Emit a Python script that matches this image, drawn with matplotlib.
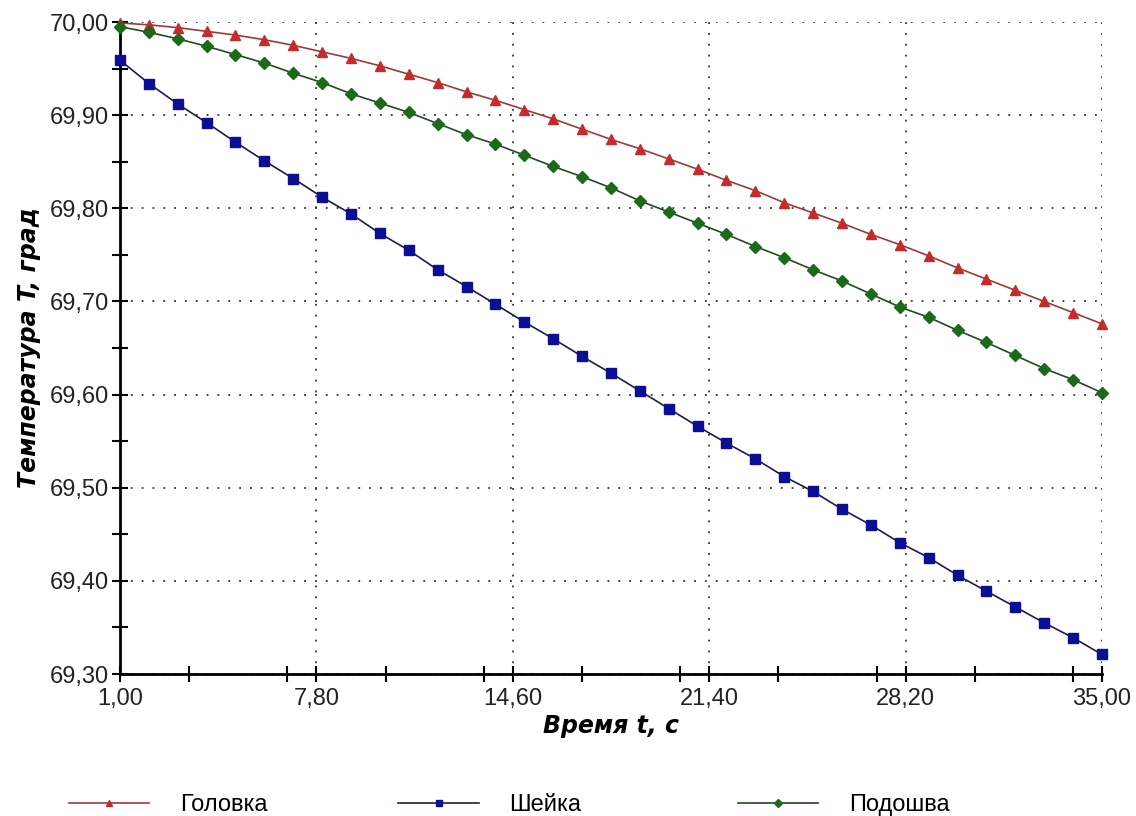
import matplotlib
matplotlib.use("Agg")
import matplotlib.pyplot as plt
from matplotlib.ticker import FuncFormatter, MultipleLocator
from matplotlib.lines import Line2D

# время, с
t = list(range(1, 36))

# Головка
golovka = [69.999, 69.997, 69.994, 69.990, 69.986, 69.981, 69.975, 69.968, 69.961, 69.953,
           69.944, 69.935, 69.925, 69.916, 69.906, 69.896, 69.885, 69.874, 69.864, 69.853,
           69.842, 69.830, 69.819, 69.806, 69.795, 69.784, 69.772, 69.761, 69.749, 69.736,
           69.724, 69.712, 69.700, 69.688, 69.676]

# Шейка
sheyka = [69.959, 69.934, 69.912, 69.892, 69.871, 69.851, 69.832, 69.812, 69.794, 69.773,
          69.755, 69.734, 69.716, 69.697, 69.678, 69.660, 69.641, 69.623, 69.604, 69.585,
          69.566, 69.548, 69.531, 69.512, 69.496, 69.477, 69.460, 69.441, 69.425, 69.406,
          69.389, 69.372, 69.355, 69.339, 69.321]

# Подошва
podoshva = [69.995, 69.989, 69.982, 69.974, 69.965, 69.956, 69.945, 69.935, 69.923, 69.913,
            69.903, 69.891, 69.879, 69.869, 69.857, 69.845, 69.834, 69.822, 69.808, 69.796,
            69.784, 69.772, 69.759, 69.747, 69.734, 69.722, 69.708, 69.694, 69.683, 69.669,
            69.656, 69.642, 69.628, 69.616, 69.602]

xticks = [1.0, 7.8, 14.6, 21.4, 28.2, 35.0]
yticks = [69.3, 69.4, 69.5, 69.6, 69.7, 69.8, 69.9, 70.0]

tick_font = ['Liberation Sans', 'DejaVu Sans']
label_font = ['DejaVu Sans']

fig = plt.figure(figsize=(11.36, 8.16), dpi=100)
ax = fig.add_axes([0.1056, 0.174, 0.8644, 0.799])

# series: (values, line colour, marker colour, marker, size, label)
series = [
    (golovka, '#9e3a3a', '#c62a2a', '^', 6.5, 'Головка'),
    (sheyka, '#1c1c4a', '#0d0d96', 's', 6.5, 'Шейка'),
    (podoshva, '#234a23', '#1a6a1a', 'D', 6.0, 'Подошва'),
]
for vals, lc, mc, mk, ms, lab in series:
    ax.plot(t, vals, color=lc, lw=1.2, marker=mk, ms=ms, mfc=mc, mec=mc, clip_on=False, zorder=3)

ax.set_xlim(1, 35)
ax.set_ylim(69.3, 70.0)
ax.set_xticks(xticks)
ax.set_yticks(yticks)
ax.xaxis.set_minor_locator(MultipleLocator(3.4))
ax.yaxis.set_minor_locator(MultipleLocator(0.05))

comma = FuncFormatter(lambda v, p: f"{v:.2f}".replace('.', ','))
ax.xaxis.set_major_formatter(comma)
ax.yaxis.set_major_formatter(comma)

ax.grid(True, which='major', color='#333333', linestyle=(0, (1, 5)), linewidth=1.3)

for s in ['top', 'right']:
    ax.spines[s].set_visible(False)
for s in ['left', 'bottom']:
    ax.spines[s].set_linewidth(2)
    ax.spines[s].set_color('black')

ax.tick_params(which='both', direction='inout', length=12, width=1.5, color='black')
ax.tick_params(axis='x', pad=4)
ax.tick_params(axis='y', pad=2)
for lbl in ax.get_xticklabels() + ax.get_yticklabels():
    lbl.set_family(tick_font)
    lbl.set_fontsize(17)
    lbl.set_color('#222222')

ax.set_xlabel('Время t, с', family=label_font, fontsize=17, fontweight='bold', fontstyle='italic', labelpad=3)
ax.set_ylabel('Температура T, град', family=label_font, fontsize=17, fontweight='bold', fontstyle='italic', labelpad=6)

# legend at the bottom, three separate entries
anchors = [0.042, 0.332, 0.631]
for (vals, lc, mc, mk, ms, lab), xa in zip(series, anchors):
    h = Line2D([], [], color=lc, lw=1.2, marker=mk, ms=4, mfc=mc, mec=mc)
    fig.legend([h], [lab], loc='lower left', bbox_to_anchor=(xa, -0.026), frameon=False,
               handlelength=3.4, handletextpad=1.3, prop={'family': tick_font, 'size': 17})

fig.savefig('out.png', dpi=100)
